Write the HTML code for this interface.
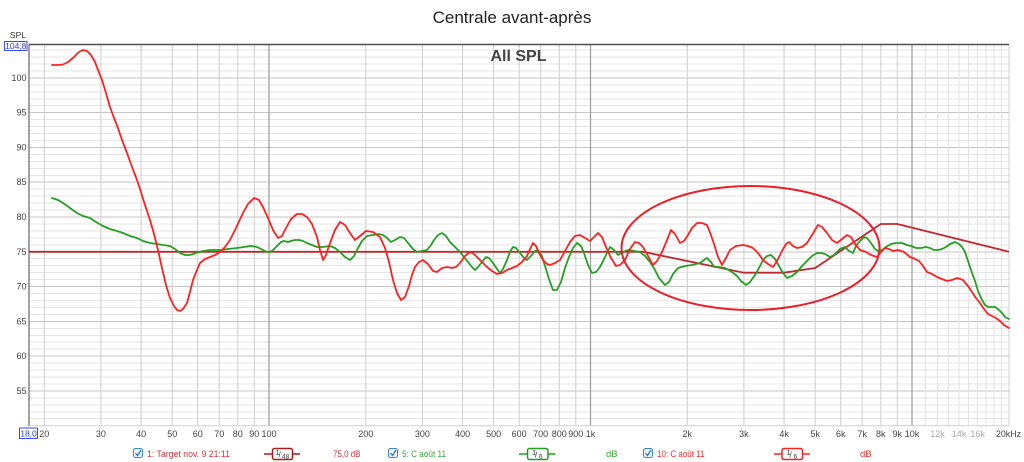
<!DOCTYPE html>
<html><head><meta charset="utf-8"><style>
html,body{margin:0;padding:0;background:#fff;overflow:hidden;}
svg{display:block;font-family:"Liberation Sans",sans-serif;}
</style></head><body>
<svg width="1024" height="462" viewBox="0 0 1024 462" xmlns="http://www.w3.org/2000/svg">
<rect width="1024" height="462" fill="#fff"/>
<!-- minor horizontal grid -->
<path stroke="#e6e6e6" stroke-width="1" fill="none" d="M29,50H1009M29,57H1009M29,64H1009M29,71H1009M29,85H1009M29,92H1009M29,99H1009M29,105.5H1009M29,119.5H1009M29,126.5H1009M29,133.5H1009M29,140.5H1009M29,154.5H1009M29,161.5H1009M29,168.5H1009M29,175.5H1009M29,189H1009M29,196H1009M29,203H1009M29,210H1009M29,224H1009M29,231H1009M29,238H1009M29,245H1009M29,258.5H1009M29,265.5H1009M29,272.5H1009M29,279.5H1009M29,293.5H1009M29,300.5H1009M29,307.5H1009M29,314.5H1009M29,328.5H1009M29,335.5H1009M29,342H1009M29,349H1009M29,363H1009M29,370H1009M29,377H1009M29,384H1009M29,398H1009M29,405H1009M29,412H1009M29,418.5H1009"/>
<!-- major horizontal grid -->
<path stroke="#c6c6c6" stroke-width="1" fill="none" d="M29,78H1009M29,112.5H1009M29,147.5H1009M29,182H1009M29,217H1009M29,252H1009M29,286.5H1009M29,321.5H1009M29,356H1009M29,391H1009"/>
<!-- vertical grid -->
<path stroke="#cdcdcd" stroke-width="1" fill="none" d="M44.3,44.5V425.7M100.9,44.5V425.7M141.1,44.5V425.7M172.2,44.5V425.7M197.7,44.5V425.7M219.2,44.5V425.7M237.8,44.5V425.7M254.3,44.5V425.7M365.8,44.5V425.7M422.4,44.5V425.7M462.6,44.5V425.7M493.7,44.5V425.7M519.2,44.5V425.7M540.7,44.5V425.7M559.3,44.5V425.7M575.8,44.5V425.7M687.3,44.5V425.7M743.9,44.5V425.7M784.1,44.5V425.7M815.2,44.5V425.7M840.7,44.5V425.7M862.2,44.5V425.7M880.8,44.5V425.7M897.3,44.5V425.7"/>
<path stroke="#e2e2e2" stroke-width="1" fill="none" d="M925.3,44.5V425.7M937.5,44.5V425.7M948.6,44.5V425.7M959,44.5V425.7M968.6,44.5V425.7M977.6,44.5V425.7M986.1,44.5V425.7M994.1,44.5V425.7M1001.6,44.5V425.7"/>
<path stroke="#9a9a9a" stroke-width="1.2" fill="none" d="M269,44.5V425.7M590.5,44.5V425.7M912,44.5V425.7"/>
<!-- borders -->
<path stroke="#d0d0d0" stroke-width="1" fill="none" d="M29,425.7H1009M1009,44.5V425.7"/>
<path stroke="#8a8a8a" stroke-width="1.6" fill="none" d="M29,44.5V425.7"/>
<path stroke="#505050" stroke-width="1.5" fill="none" d="M29,44.5H1009"/>

<!-- title -->
<text x="512" y="23" font-size="17" text-anchor="middle" fill="#222">Centrale avant-après</text>
<text x="518.5" y="61" font-size="16" font-weight="bold" text-anchor="middle" fill="#444">All SPL</text>

<!-- y axis -->
<text x="26" y="38" font-size="8.5" text-anchor="end" fill="#333">SPL</text>
<rect x="4.5" y="41.5" width="22.5" height="9" fill="#fff" stroke="#3a4cff" stroke-width="1"/>
<text x="15.75" y="49" font-size="8.5" text-anchor="middle" fill="#2a3cff">104,8</text>
<g font-size="9" fill="#444" text-anchor="end">
<text x="26.5" y="81">100</text>
<text x="26.5" y="115.5">95</text>
<text x="26.5" y="150.5">90</text>
<text x="26.5" y="185">85</text>
<text x="26.5" y="220">80</text>
<text x="26.5" y="255">75</text>
<text x="26.5" y="289.5">70</text>
<text x="26.5" y="324.5">65</text>
<text x="26.5" y="359">60</text>
<text x="26.5" y="394">55</text>
</g>

<!-- x axis -->
<rect x="19.5" y="428" width="18" height="10.5" fill="#fff" stroke="#3a4cff" stroke-width="1"/>
<text x="28.5" y="436.5" font-size="8.5" text-anchor="middle" fill="#2a3cff">18,0</text>
<g font-size="9" fill="#444" text-anchor="middle">
<text x="44.3" y="437">20</text>
<text x="100.9" y="437">30</text>
<text x="141.1" y="437">40</text>
<text x="172.2" y="437">50</text>
<text x="197.7" y="437">60</text>
<text x="219.2" y="437">70</text>
<text x="237.8" y="437">80</text>
<text x="254.3" y="437">90</text>
<text x="269" y="437">100</text>
<text x="365.8" y="437">200</text>
<text x="422.4" y="437">300</text>
<text x="462.6" y="437">400</text>
<text x="493.7" y="437">500</text>
<text x="519.2" y="437">600</text>
<text x="540.7" y="437">700</text>
<text x="559.3" y="437">800</text>
<text x="575.8" y="437">900</text>
<text x="590.5" y="437">1k</text>
<text x="687.3" y="437">2k</text>
<text x="743.9" y="437">3k</text>
<text x="784.1" y="437">4k</text>
<text x="815.2" y="437">5k</text>
<text x="840.7" y="437">6k</text>
<text x="862.2" y="437">7k</text>
<text x="880.8" y="437">8k</text>
<text x="897.3" y="437">9k</text>
<text x="912" y="437">10k</text>
<text x="937.5" y="437" fill="#aaa">12k</text>
<text x="959" y="437" fill="#aaa">14k</text>
<text x="977.6" y="437" fill="#aaa">16k</text>
<text x="996" y="437" text-anchor="start" textLength="25" lengthAdjust="spacingAndGlyphs">20kHz</text>
</g>

<!-- target curve -->
<polyline fill="none" stroke="#c0282d" stroke-width="1.8" stroke-linejoin="round" points="29,251.8 643,251.8 743.9,272.7 784.1,272.7 815.2,268 880.8,224 897.3,224 1009,251.8"/>

<!-- green curve -->
<polyline fill="none" stroke="#22a022" stroke-width="1.8" stroke-linejoin="round" stroke-linecap="round" points="52,198 58,200 63,203 70,208 77,213 83,216 90,218 96,222 103,226 110,229 117,231 123,233 130,236 137,238 143,241 150,243 157,244 163,245 170,246 175,249 180,253 185,255 190,255 196,253 203,251 210,250 220,250 228,249 237,248 244,247 251,246 257,247 263,250 267,252 270,252 273,250 277,246 281,242 284,241 288,242 291,241 295,240 299,240 303,241 307,243 312,245 317,247 323,247 330,246 335,248 340,252 345,257 350,260 354,256 358,248 362,241 367,236 373,235 379,234 383,235 387,238 391,242 395,240 400,237 404,238 408,243 413,249 417,252 422,251 427,250 431,245 434,240 438,235 442,233 446,236 450,242 455,247 460,252 464,257 468,262 472,267 475,270 478,267 482,262 486,257 489,258 493,263 497,269 500,273 503,269 507,260 510,252 513,247 516,248 520,253 524,258 527,260 531,256 535,251 538,250 542,256 545,266 549,279 553,290 557,290 561,282 565,268 569,257 573,248 577,243 581,246 584,253 588,265 592,273 596,272 600,267 605,257 610,247 614,250 618,255 623,252 628,250 634,251 640,252 645,256 650,262 655,270 659,278 665,285 669,282 673,274 678,268 685,266 692,265 700,263 704,260 707,258 711,262 714,267 719,267 725,268 732,272 737,276 741,281 746,285 750,282 755,275 759,268 763,260 767,256 771,255 775,259 779,266 783,273 787,278 792,276 797,272 802,266 807,261 812,256 817,253 821,253 825,254 830,257 834,255 840,249 845,247 849,251 853,253 856,246 860,241 864,237 867,238 871,243 875,249 878,251 882,250 886,247 891,244 896,243 902,243 907,245 911,246 916,248 921,248 926,247 930,248 934,250 938,250 942,249 946,247 950,244 955,242 959,244 962,247 965,252 968,261 971,270 975,281 978,291 982,300 985,305 988,307 992,307 995,307 998,309 1002,313 1005,317 1009,319"/>

<!-- red curve -->
<polyline fill="none" stroke="#ff2020" stroke-width="1.8" stroke-linejoin="round" stroke-linecap="round" points="52,65 58,65 63,64.5 68,62 74,57 79,52 83,50 87,51 91,55 95,62 98,70 102,80 106,93 110,107 114,118 118,128 122,140 127,153 131,164 137,180 140,189 145,205 150,220 154,234 158,250 162,268 166,285 170,298 174,306 177,310 180,311 183,309 187,303 190,292 193,280 197,270 200,263 205,259 210,257 215,255 220,252 225,247 230,240 236,228 243,213 248,204 254,198 259,200 263,207 268,218 273,230 278,238 282,236 286,228 291,219 297,214 302,214 307,217 312,224 317,237 320,250 323,260 326,255 330,243 335,230 340,222 345,225 350,233 355,240 360,236 366,231 373,232 380,237 385,248 389,262 393,280 397,293 401,300 405,297 409,286 412,275 415,267 419,262 423,260 428,264 433,271 437,272 442,268 447,267 452,268 456,267 460,263 465,256 470,252 474,254 478,258 483,263 487,267 492,271 497,274 502,273 507,270 512,268 517,266 522,262 527,256 530,249 533,243 536,246 539,253 543,260 547,264 550,265 555,263 560,260 565,251 570,242 575,236 580,235 585,238 590,241 594,237 598,233 602,237 606,247 611,258 616,266 620,265 625,260 630,249 635,242 639,243 643,247 648,256 653,265 657,261 662,252 667,240 671,230 675,234 680,243 684,241 688,235 692,228 697,223 702,223 707,225 711,235 715,247 718,257 722,265 726,258 730,250 736,246 743,245 748,246 753,248 758,253 763,260 768,264 773,267 777,261 782,251 786,244 789,242 793,246 797,248 802,247 807,243 812,235 818,225 822,227 827,233 832,240 837,243 842,239 847,235 851,237 855,244 860,250 866,252 871,255 877,257 881,252 885,248 889,249 893,251 898,250 904,252 910,257 915,259 919,261 923,266 927,272 932,274 937,277 942,279 947,281 952,280 957,278 963,280 968,286 972,292 976,298 980,303 984,309 988,314 992,316 996,318 1000,321 1004,325 1009,328"/>

<!-- annotation ellipse -->
<ellipse cx="750.5" cy="248" rx="129" ry="62" fill="none" stroke="#e8202a" stroke-width="2"/>

<!-- legend -->
<g font-size="9.5">
<rect x="133.5" y="448.5" width="9" height="9" rx="2" fill="#f2f7fd" stroke="#3a86d8" stroke-width="1"/>
<path d="M135.5,453 L137.5,455.5 L141,450" fill="none" stroke="#2a76c8" stroke-width="1.3"/>
<text x="147" y="457" fill="#d8323e" textLength="83" lengthAdjust="spacingAndGlyphs">1: Target nov. 9 21:11</text>
<path d="M264,454H300" stroke="#b01c1c" stroke-width="1.5"/>
<rect x="272.5" y="448.5" width="20" height="11" rx="2" fill="#fff" stroke="#b01c1c" stroke-width="1.5"/>
<text x="275.5" y="455" font-size="7.5" fill="#333">1</text>
<text x="278.5" y="457.5" font-size="8" fill="#333">/</text>
<text x="282" y="458.5" font-size="6.5" fill="#333">48</text>
<text x="333" y="457" fill="#d8323e" textLength="27.5" lengthAdjust="spacingAndGlyphs">75,0 dB</text>

<rect x="388.5" y="448.5" width="9" height="9" rx="2" fill="#f2f7fd" stroke="#3a86d8" stroke-width="1"/>
<path d="M390.5,453 L392.5,455.5 L396,450" fill="none" stroke="#2a76c8" stroke-width="1.3"/>
<text x="402" y="457" fill="#3aa83a" textLength="44" lengthAdjust="spacingAndGlyphs">5: C août 11</text>
<path d="M519,454H555.5" stroke="#22a022" stroke-width="1.5"/>
<rect x="527.5" y="448.5" width="20.5" height="11" rx="2" fill="#fff" stroke="#22a022" stroke-width="1.5"/>
<text x="532" y="455" font-size="7.5" fill="#333">1</text>
<text x="535" y="457.5" font-size="8" fill="#333">/</text>
<text x="539" y="458.5" font-size="6.5" fill="#333">6</text>
<text x="606" y="457" fill="#3aa83a">dB</text>

<rect x="643.5" y="448.5" width="9" height="9" rx="2" fill="#f2f7fd" stroke="#3a86d8" stroke-width="1"/>
<path d="M645.5,453 L647.5,455.5 L651,450" fill="none" stroke="#2a76c8" stroke-width="1.3"/>
<text x="657" y="457" fill="#ff2a2a" textLength="47.5" lengthAdjust="spacingAndGlyphs">10: C août 11</text>
<path d="M774,454H810" stroke="#ff2020" stroke-width="1.5"/>
<rect x="782" y="448.5" width="20.5" height="11" rx="2" fill="#fff" stroke="#ff2020" stroke-width="1.5"/>
<text x="786.5" y="455" font-size="7.5" fill="#333">1</text>
<text x="789.5" y="457.5" font-size="8" fill="#333">/</text>
<text x="793.5" y="458.5" font-size="6.5" fill="#333">6</text>
<text x="860" y="457" fill="#ff2a2a">dB</text>
</g>
</svg>
</body></html>
